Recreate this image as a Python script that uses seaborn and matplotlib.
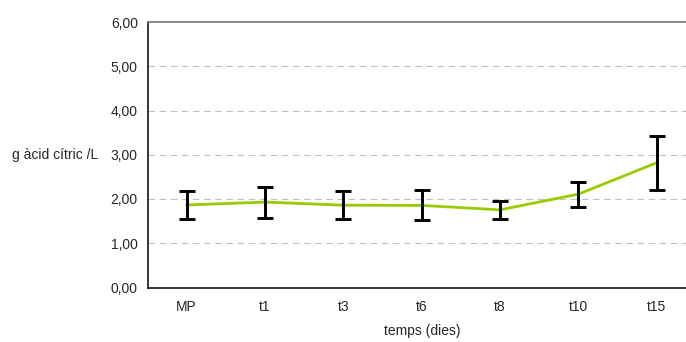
import matplotlib
matplotlib.use("Agg")
import matplotlib.pyplot as plt
import seaborn as sns
import numpy as np
import pandas as pd

categories = ["MP", "t1", "t3", "t6", "t8", "t10", "t15"]
means = [1.865, 1.93, 1.86, 1.855, 1.755, 2.11, 2.82]
errors = [0.31, 0.35, 0.31, 0.34, 0.20, 0.28, 0.61]
yticks = [0, 1, 2, 3, 4, 5, 6]
ytick_labels = ["0,00", "1,00", "2,00", "3,00", "4,00", "5,00", "6,00"]

sns.set_style("white")
plt.rcParams['font.family'] = ['Liberation Sans', 'DejaVu Sans']

fig = plt.figure(figsize=(6.86, 3.42), dpi=100)
ax = fig.add_axes([147.5/686, 1-287.5/342, (696-147.5)/686, (287.5-22)/342])

df = pd.DataFrame({"x": np.arange(len(categories)), "y": means})
sns.lineplot(data=df, x="x", y="y", ax=ax, color="#99CC00", linewidth=2, zorder=2)
ax.errorbar(df["x"], df["y"], yerr=errors, fmt="none", ecolor="black",
            elinewidth=2.1, capsize=5.6, capthick=2.1, zorder=3)

ax.set_xlim(-0.5, len(categories) - 0.5)
ax.set_ylim(0, 6)
ax.set_yticks(yticks)
ax.set_yticklabels(ytick_labels, fontsize=10)
for y in yticks[1:-1]:
    ax.axhline(y, color="#c0c0c0", linestyle=(0, (6, 4)), linewidth=0.8, zorder=1)

ax.set_xticks(np.arange(-0.5, len(categories), 1.0))
ax.set_xticklabels([])
ax.set_xticks(np.arange(len(categories)), minor=True)
ax.set_xticklabels(categories, minor=True, fontsize=10)
ax.tick_params(axis="x", which="minor", length=0, pad=9)
ax.tick_params(axis="x", which="major", length=4, width=0.8, color="black", direction="out")
ax.tick_params(axis="y", length=5, width=0.8, color="#808080", direction="out", pad=2)

ax.spines["right"].set_visible(False)
ax.spines["top"].set_color("#808080")
ax.spines["top"].set_linewidth(1.3)
for s in ["left", "bottom"]:
    ax.spines[s].set_color("black")
    ax.spines[s].set_linewidth(1.1)

ax.set_xlabel("temps (dies)", fontsize=10, labelpad=7)
ax.set_ylabel("")
fig.text(12/686, 1-155/342, "g àcid cítric /L", fontsize=10, va="center", ha="left")

fig.savefig("out.png", dpi=100)
